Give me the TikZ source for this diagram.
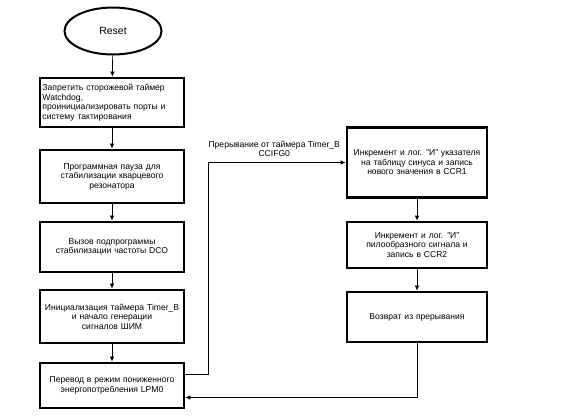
\documentclass[tikz,border=0pt]{standalone}
\usepackage{fontspec}
\setmainfont{Liberation Sans}
\usepackage{tikz}
\usetikzlibrary{shapes.geometric,arrows.meta}

\begin{document}
\begin{tikzpicture}[x=1bp, y=-1bp,
blok/.style={draw, line width=2.8bp, minimum width=144bp, text width=139bp, inner sep=1.5bp,
  align=center, font=\fontsize{8.6}{9.6}\selectfont},
strelka/.style={-{Latex[length=5bp,width=4.5bp]}, line width=0.7bp},
]
\useasboundingbox (0,0) rectangle (582,419);

\node[draw, ellipse, line width=2bp, minimum width=97bp, minimum height=47bp,
  font=\fontsize{10.5}{12}\selectfont] (reset) at (113,31) {Reset};

\node[blok, align=left, minimum height=49bp] (wdt) at (112,102.5)
  {Запретить сторожевой таймер\\Watchdog,\\проинициализировать порты и\\систему тактирования};
\node[blok, minimum height=53bp] (pauza) at (112,176.5)
  {Программная пауза для\\стабилизации кварцевого\\резонатора};
\node[blok, minimum height=50bp] (dco) at (112,247)
  {Вызов подпрограммы\\стабилизации частоты DCO};
\node[blok, minimum height=53bp] (timer) at (112,316.5)
  {Инициализация таймера Timer\_B\\и начало генерации\\сигналов ШИМ};
\node[blok, minimum height=45bp] (lpm) at (112,385.5)
  {Перевод в режим пониженного\\энергопотребления LPM0};

\node[blok, minimum width=140bp, text width=135bp, minimum height=70bp] (sinus) at (417,162.5)
  {Инкремент и лог. "И" указателя\\на таблицу синуса и запись\\нового значения в CCR1};
\node[blok, minimum width=140bp, text width=135bp, minimum height=46bp] (pila) at (417,245)
  {Инкремент и лог. "И"\\пилообразного сигнала и\\запись в CCR2};
\node[blok, minimum width=140bp, text width=135bp, minimum height=50bp] (vozvrat) at (417,317)
  {Возврат из прерывания};

\draw[strelka] (reset) -- (wdt);
\draw[strelka] (wdt) -- (pauza);
\draw[strelka] (pauza) -- (dco);
\draw[strelka] (dco) -- (timer);
\draw[strelka] (timer) -- (lpm);

\draw[strelka] ([yshift=11bp]lpm.east) -- ++(23,0) |- (sinus.west)
  node[pos=0.74, above=2bp, align=center, font=\fontsize{8.6}{9.6}\selectfont]
  {Прерывание от таймера Timer\_B\\CCIFG0};
\draw[strelka] (sinus) -- (pila);
\draw[strelka] (pila) -- (vozvrat);
\draw[strelka] (vozvrat.south) |- ([yshift=-12bp]lpm.east);

\end{tikzpicture}
\end{document}
